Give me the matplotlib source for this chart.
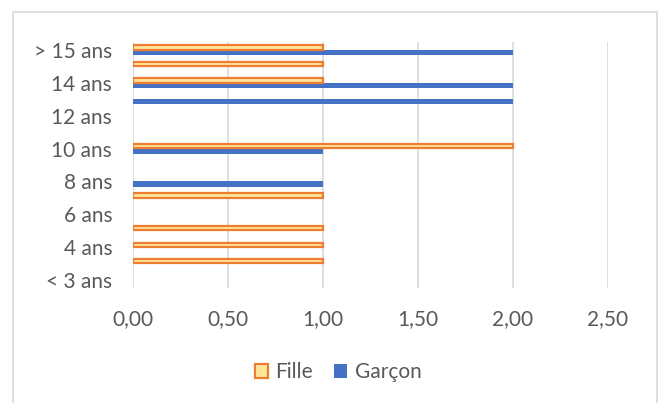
import numpy as np
import matplotlib.pyplot as plt
from matplotlib.patches import Rectangle, Patch

categories = ['< 3 ans', '3 ans', '4 ans', '5 ans', '6 ans', '7 ans', '8 ans',
              '9 ans', '10 ans', '11 ans', '12 ans', '13 ans', '14 ans',
              '15 ans', '> 15 ans']
fille = [0, 1, 1, 1, 0, 1, 0, 0, 2, 0, 0, 0, 1, 1, 1]
garcon = [0, 0, 0, 0, 0, 0, 1, 0, 1, 0, 0, 2, 2, 0, 2]
x_ticks = [0, 0.5, 1.0, 1.5, 2.0, 2.5]

plt.rcParams['font.family'] = ['Lato', 'DejaVu Sans']

fig = plt.figure(figsize=(6.64, 4.03), dpi=100)
ax = fig.add_axes([0.2003, 0.2849, 0.7154, 0.6114])

y = np.arange(len(categories))
# skip zero values so no edge slivers are drawn at 0
g_idx = [i for i, v in enumerate(garcon) if v > 0]
f_idx = [i for i, v in enumerate(fille) if v > 0]
ax.barh(y[g_idx] - 0.15, [garcon[i] for i in g_idx], height=0.32,
        color='#4472C4', zorder=3)
ax.barh(y[f_idx] + 0.15, [fille[i] for i in f_idx], height=0.26,
        color='#FFE699', edgecolor='#ED7D31', linewidth=1.6, zorder=3)

ax.set_xlim(0, 2.5)
ax.set_ylim(-0.5, len(categories) - 0.5)
ax.set_xticks(x_ticks)
ax.set_xticklabels([f'{v:.2f}'.replace('.', ',') for v in x_ticks])
ax.set_yticks(y[::2])
ax.set_yticklabels(categories[::2])
ax.tick_params(length=0, labelsize=15, labelcolor='#595959')
ax.tick_params(axis='y', pad=15)
ax.tick_params(axis='x', pad=15)
ax.grid(axis='x', color='#D9D9D9', linewidth=1.2, zorder=0)
for s in ax.spines.values():
    s.set_visible(False)

handles = [Patch(facecolor='#FFE699', edgecolor='#ED7D31', linewidth=1.6, label='Fille'),
           Patch(facecolor='#4472C4', label='Garçon')]
fig.legend(handles=handles, loc='center', bbox_to_anchor=(0.509, 0.077),
           ncol=2, frameon=False, fontsize=15, labelcolor='#595959',
           handlelength=0.65, handleheight=0.65, handletextpad=0.35,
           columnspacing=1.0)

# chart border
fig.patches.append(Rectangle((12.5 / 664, -0.1), (657 - 12.5) / 664, 1.1 - 12.5 / 403,
                             transform=fig.transFigure, fill=False,
                             edgecolor='#D9D9D9', linewidth=1.2))

fig.savefig('out.png', dpi=100)
